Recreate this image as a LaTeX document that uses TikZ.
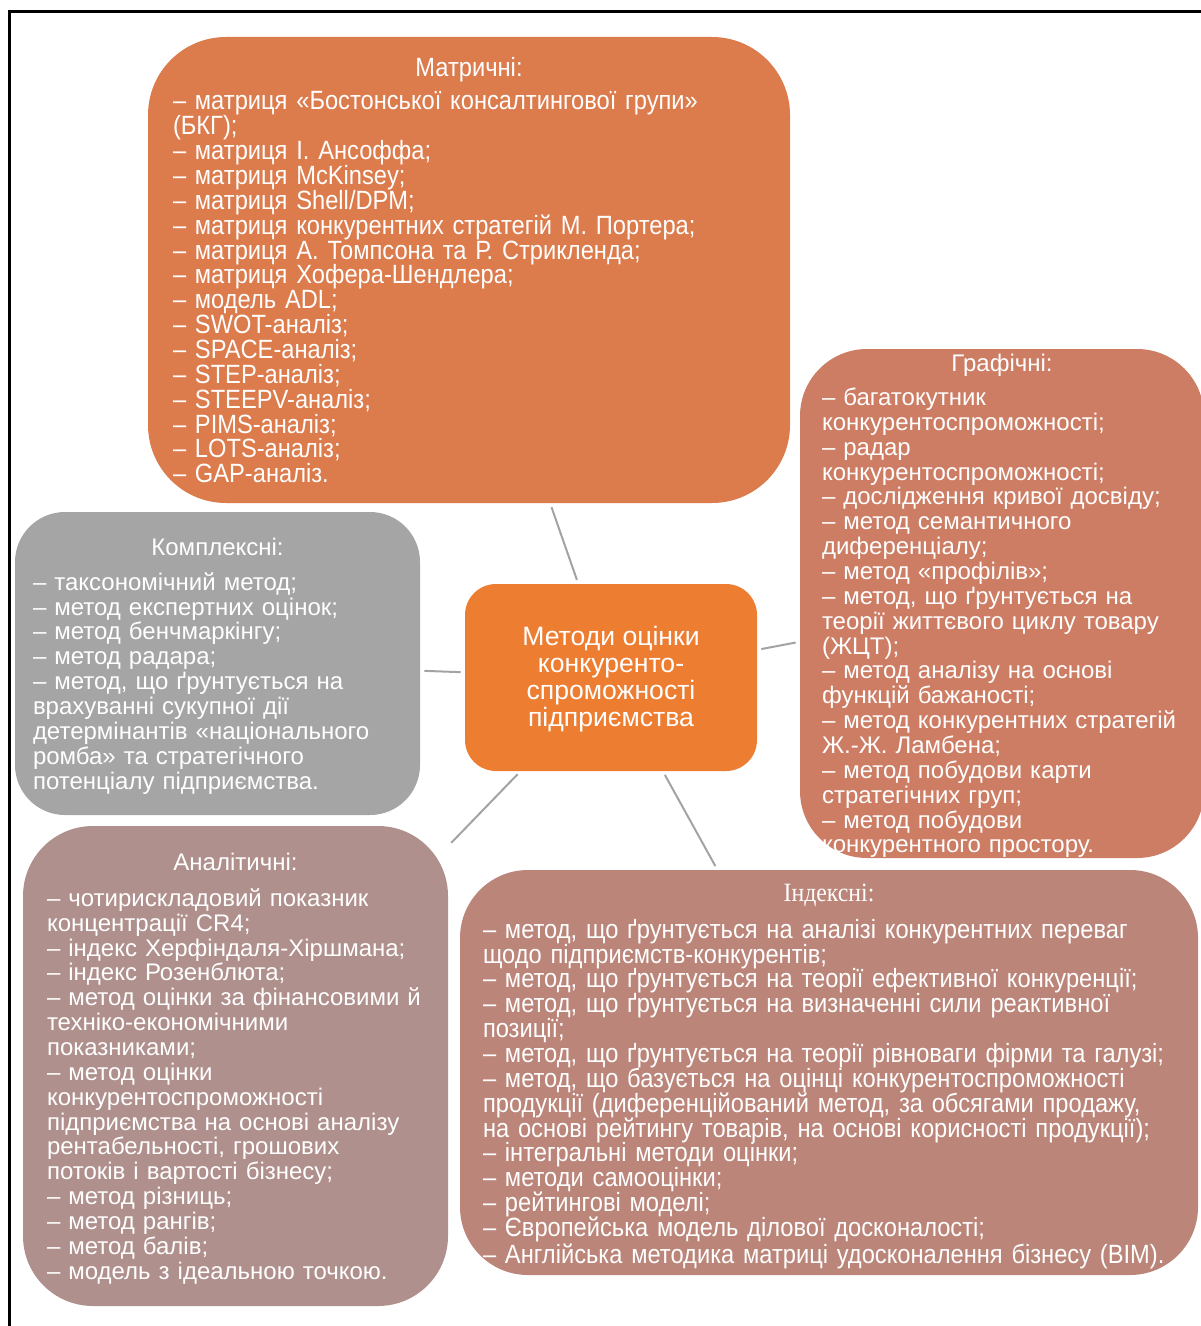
\documentclass[tikz,border=0pt]{standalone}
\usepackage{fontspec}
\setmainfont{Liberation Sans}
\newfontfamily\tallsans[FakeStretch=0.897]{Liberation Sans}
\newfontfamily\tallserif[FakeStretch=0.9]{Liberation Serif}
\definecolor{matrcol}{HTML}{DC7B4C}
\definecolor{grafcol}{HTML}{CD7D64}
\definecolor{komplcol}{HTML}{A5A5A5}
\definecolor{analcol}{HTML}{AF908D}
\definecolor{indcol}{HTML}{BB8579}
\definecolor{corecol}{HTML}{ED7D31}
\definecolor{linkcol}{HTML}{A3A3A3}
\newcommand{\hd}[2][0pt]{\lineskiplimit=-20pt\relax
 \makebox[\hsize][c]{\rule{0pt}{#1}#2}}

\begin{document}
\begin{tikzpicture}[x=0.5pt,y=-0.5pt,
 box/.style={text=white,inner ysep=0pt,align=left,
  font=\fontsize{12pt}{12.43pt}\selectfont},
 tallbox/.style={box,font=\fontsize{13.2pt}{12.43pt}\tallsans},
 link/.style={draw=linkcol,line width=1pt,shorten <=2pt,shorten >=2pt}]
\useasboundingbox (0,0) rectangle (1200,1326);
\draw[line width=1.5pt] (9.5,1340) -- (9.5,12) -- (1215,12);
\node[tallbox,fill=matrcol,rounded corners=39pt,text width=296pt,inner xsep=12.5pt,
 minimum height=233pt] (matr) at (469,270) {\hd{Матричні:}\\[4.5pt]
– матриця «Бостонської консалтингової групи»\\
(БКГ);\\
– матриця І. Ансоффа;\\
– матриця McKinsey;\\
– матриця Shell/DPM;\\
– матриця конкурентних стратегій М. Портера;\\
– матриця А. Томпсона та Р. Стрикленда;\\
– матриця Хофера-Шендлера;\\
– модель ADL;\\
– SWOT-аналіз;\\
– SPACE-аналіз;\\
– STEP-аналіз;\\
– STEEPV-аналіз;\\
– PIMS-аналіз;\\
– LOTS-аналіз;\\
– GAP-аналіз.};
\node[box,fill=grafcol,rounded corners=33.5pt,text width=180pt,inner xsep=11pt,
 minimum height=254.5pt] (graf) at (1002,603.5) {\hd[11.3pt]{Графічні:}\\[4.5pt]
– багатокутник\\
конкурентоспроможності;\\
– радар\\
конкурентоспроможності;\\
– дослідження кривої досвіду;\\
– метод семантичного\\
диференціалу;\\
– метод «профілів»;\\
– метод, що ґрунтується на\\
теорії життєвого циклу товару\\
(ЖЦТ);\\
– метод аналізу на основі\\
функцій бажаності;\\
– метод конкурентних стратегій\\
Ж.-Ж. Ламбена;\\
– метод побудови карти\\
стратегічних груп;\\
– метод побудови\\
конкурентного простору.};
\node[box,fill=komplcol,rounded corners=25pt,text width=184.5pt,inner xsep=9pt,
 minimum height=151.5pt] (kompl) at (217.5,663.5) {\hd[11.2pt]{Комплексні:}\\[5pt]
– таксономічний метод;\\
– метод експертних оцінок;\\
– метод бенчмаркінгу;\\
– метод радара;\\
– метод, що ґрунтується на\\
врахуванні сукупної дії\\
детермінантів «національного\\
ромба» та стратегічного\\
потенціалу підприємства.};
\node[box,fill=analcol,rounded corners=35pt,text width=188.5pt,inner xsep=12pt,
 minimum height=240pt] (anal) at (235.5,1066) {\hd[11.2pt]{Аналітичні:}\\[5.5pt]
– чотирискладовий показник\\
концентрації CR4;\\
– індекс Херфіндаля-Хіршмана;\\
– індекс Розенблюта;\\
– метод оцінки за фінансовими й\\
техніко-економічними\\
показниками;\\
– метод оцінки\\
конкурентоспроможності\\
підприємства на основі аналізу\\
рентабельності, грошових\\
потоків і вартості бізнесу;\\
– метод різниць;\\
– метод рангів;\\
– метод балів;\\
– модель з ідеальною точкою.};
\node[tallbox,fill=indcol,rounded corners=34pt,text width=346pt,inner xsep=11.5pt,
 minimum height=202.5pt] (ind) at (829,1072.5) {\hd[12.7pt]{\tallserif Індексні:}\\[6pt]
– метод, що ґрунтується на аналізі конкурентних переваг\\
щодо підприємств-конкурентів;\\
– метод, що ґрунтується на теорії ефективної конкуренції;\\
– метод, що ґрунтується на визначенні сили реактивної\\
позиції;\\
– метод, що ґрунтується на теорії рівноваги фірми та галузі;\\
– метод, що базується на оцінці конкурентоспроможності\\
продукції (диференційований метод, за обсягами продажу,\\
на основі рейтингу товарів, на основі корисності продукції);\\
– інтегральні методи оцінки;\\
– методи самооцінки;\\
– рейтингові моделі;\\
– Європейська модель ділової досконалості;\\
– Англійська методика матриці удосконалення бізнесу (BIM).};
\node[fill=corecol,text=white,rounded corners=15.5pt,align=center,
 minimum width=146pt,minimum height=93.5pt,
 font=\fontsize{13.3pt}{13.5pt}\selectfont] (core) at (611,677.5)
 {\rule{0pt}{11.5pt}Методи оцінки\\конкуренто-\\спроможності\\підприємства};
\foreach \b in {matr,graf,kompl,anal,ind} \draw[link] (core) -- (\b);
\end{tikzpicture}
\end{document}
